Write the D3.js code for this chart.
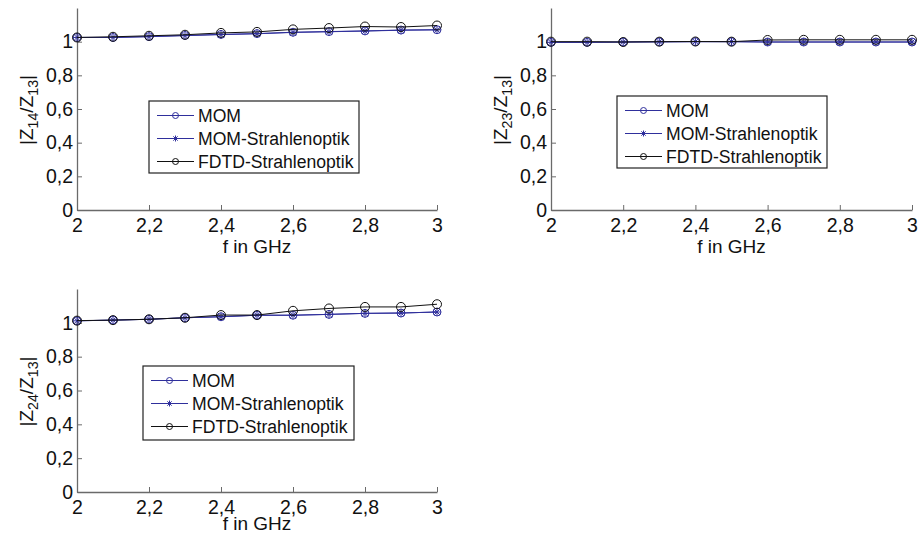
<!DOCTYPE html>
<html><head><meta charset="utf-8">
<script src="https://cdn.jsdelivr.net/npm/d3@7"></script>
<style>body{margin:0;background:#fff;} svg{display:block;font-family:"Liberation Sans",Arial,Helvetica,sans-serif;}</style>
</head><body>
<svg id="c" width="918" height="539"></svg>
<script>
const freqs = [2.0, 2.1, 2.2, 2.3, 2.4, 2.5, 2.6, 2.7, 2.8, 2.9, 3.0];
const xTicks = [2, 2.2, 2.4, 2.6, 2.8, 3];
const xTickLabels = ["2", "2,2", "2,4", "2,6", "2,8", "3"];
const yTicks = [0, 0.2, 0.4, 0.6, 0.8, 1];
const yTickLabels = ["0", "0,2", "0,4", "0,6", "0,8", "1"];
const seriesNames = ["MOM", "MOM-Strahlenoptik", "FDTD-Strahlenoptik"];

// |Z14/Z13|
const z14_mom   = [1.025, 1.025, 1.030, 1.037, 1.043, 1.048, 1.056, 1.060, 1.064, 1.069, 1.071];
const z14_momS  = [1.025, 1.025, 1.030, 1.036, 1.042, 1.047, 1.055, 1.059, 1.063, 1.068, 1.070];
const z14_fdtd  = [1.025, 1.029, 1.035, 1.041, 1.052, 1.058, 1.073, 1.081, 1.090, 1.087, 1.096];
// |Z23/Z13|
const z23_mom   = [0.996, 0.996, 0.998, 0.999, 1.000, 1.000, 0.998, 0.998, 0.998, 0.998, 0.998];
const z23_momS  = [0.996, 0.996, 0.998, 0.999, 1.000, 1.000, 0.998, 0.998, 0.998, 0.998, 0.998];
const z23_fdtd  = [1.000, 1.000, 0.998, 1.000, 1.001, 1.000, 1.010, 1.011, 1.011, 1.011, 1.011];
// |Z24/Z13|
const z24_mom   = [1.012, 1.016, 1.021, 1.030, 1.036, 1.045, 1.045, 1.050, 1.056, 1.058, 1.064];
const z24_momS  = [1.012, 1.016, 1.021, 1.030, 1.036, 1.045, 1.045, 1.050, 1.056, 1.058, 1.064];
const z24_fdtd  = [1.013, 1.016, 1.021, 1.030, 1.046, 1.046, 1.071, 1.085, 1.094, 1.094, 1.110];

const panels = [
  {ysub:"14", data:[z14_mom, z14_momS, z14_fdtd], x0:77, x1:437, yb:210, yt:8, xlab:43,
   leg:{x:149, y:101, w:210, h:72}},
  {ysub:"23", data:[z23_mom, z23_momS, z23_fdtd], x0:551, x1:912, yb:210, yt:8, xlab:43,
   leg:{x:617, y:96, w:210, h:72}},
  {ysub:"24", data:[z24_mom, z24_momS, z24_fdtd], x0:77, x1:437, yb:492, yt:289, xlab:38,
   leg:{x:143, y:366, w:211, h:74}},
];

const blue = "#2f2f9c", black = "#111", axisCol = "#6a6a6a";
const colors = [blue, blue, black];
const svg = d3.select("#c");
const fsTick = 19.5, fsLab = 19, fsLeg = 17.6;

function marker(g, type, col, r){
  if(type === 0 || type === 2){
    g.append("circle").attr("r", r).attr("fill","none").attr("stroke",col).attr("stroke-width",1);
  } else {
    const d = r, e = r*0.72;
    g.append("path").attr("d",`M${-d},0H${d}M0,${-d}V${d}M${-e},${-e}L${e},${e}M${-e},${e}L${e},${-e}`)
      .attr("stroke",col).attr("stroke-width",1).attr("fill","none");
  }
}

panels.forEach(p => {
  const x = d3.scaleLinear().domain([2,3]).range([p.x0,p.x1]);
  const y = d3.scaleLinear().domain([0,1.2]).range([p.yb,p.yt]);
  const g = svg.append("g");

  const xa = d3.axisBottom(x).tickValues(xTicks).tickFormat((d,i)=>xTickLabels[i]).tickSizeInner(-5).tickSizeOuter(0).tickPadding(8);
  const gx = g.append("g").attr("transform",`translate(0,${p.yb})`).call(xa);
  gx.select(".domain").attr("stroke",axisCol).attr("stroke-width",1.3);
  gx.selectAll(".tick line").attr("stroke",axisCol);
  gx.selectAll(".tick text").attr("font-size",fsTick).attr("fill","#111").attr("dy","0.71em");

  const ya = d3.axisLeft(y).tickValues(yTicks).tickFormat((d,i)=>yTickLabels[i]).tickSizeInner(-5).tickSizeOuter(0).tickPadding(4);
  const gy = g.append("g").attr("transform",`translate(${p.x0},0)`).call(ya);
  gy.select(".domain").attr("stroke",axisCol).attr("stroke-width",1.3);
  gy.selectAll(".tick line").attr("stroke",axisCol);
  gy.selectAll(".tick text").attr("font-size",fsTick).attr("fill","#111");

  g.append("text").attr("x",(p.x0+p.x1)/2).attr("y",p.yb+p.xlab).attr("text-anchor","middle")
    .attr("font-size",fsLab).attr("fill","#111").text("f in GHz");
  const yl = g.append("text").attr("transform",`translate(${p.x0-44},${(p.yb+p.yt)/2+1}) rotate(-90)`)
    .attr("text-anchor","middle").attr("font-size",fsLab).attr("fill","#111");
  yl.append("tspan").text("|Z");
  yl.append("tspan").attr("font-size",fsLab*0.75).attr("dy",5).text(p.ysub);
  yl.append("tspan").attr("dy",-5).text("/Z");
  yl.append("tspan").attr("font-size",fsLab*0.75).attr("dy",5).text("13");
  yl.append("tspan").attr("dy",-5).text("|");

  const line = d3.line().x((d,i)=>x(freqs[i])).y(d=>y(d));
  p.data.forEach((vals,si) => {
    g.append("path").datum(vals).attr("d",line).attr("fill","none")
      .attr("stroke",colors[si]).attr("stroke-width",1);
    vals.forEach((v,i) => {
      const mg = g.append("g").attr("transform",`translate(${x(freqs[i])},${y(v)})`);
      marker(mg, si, colors[si], si===2 ? 4.5 : 4);
    });
  });

  const L = p.leg;
  const lg = g.append("g").attr("transform",`translate(${L.x},${L.y})`);
  lg.append("rect").attr("width",L.w).attr("height",L.h).attr("fill","#fff").attr("stroke","#222").attr("stroke-width",1.2);
  seriesNames.forEach((nm,si) => {
    const cy = 14.5 + si*23;
    const row = lg.append("g").attr("transform",`translate(0,${cy})`);
    row.append("line").attr("x1",8).attr("x2",45).attr("y1",0).attr("y2",0).attr("stroke",colors[si]).attr("stroke-width",1);
    const mg = row.append("g").attr("transform","translate(26.5,0)");
    marker(mg, si, colors[si], 3);
    row.append("text").attr("x",49).attr("y",0).attr("dy","0.36em").attr("font-size",fsLeg).attr("fill","#111").text(nm);
  });
});
</script>
</body></html>
